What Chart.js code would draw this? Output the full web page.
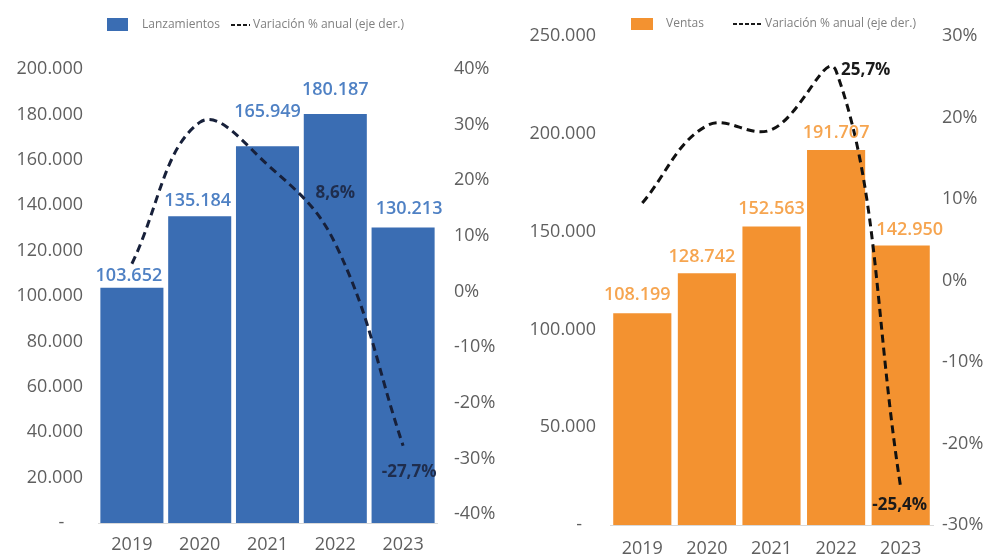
<!DOCTYPE html>
<html>
<head>
<meta charset="utf-8">
<script src="https://cdn.jsdelivr.net/npm/chart.js@4.4.0/dist/chart.umd.min.js"></script>
<style>
body{margin:0;background:#fff;width:992px;height:558px;overflow:hidden}
.box{position:absolute;top:0;width:496px;height:558px}
</style>
</head>
<body>
<div class="box" style="left:0"><canvas id="lanz" width="496" height="558"></canvas></div>
<div class="box" style="left:496px"><canvas id="ventas" width="496" height="558"></canvas></div>
<script>
// datos
const years = ['2019', '2020', '2021', '2022', '2023'];
const lanzamientos = [103652, 135184, 165949, 180187, 130213];
const varLanzamientos = [5.0, 30.4, 22.8, 8.6, -27.7];
const ventas = [108199, 128742, 152563, 191707, 142950];
const varVentas = [9.5, 19.0, 18.5, 25.7, -25.4];
const pctTicks = [-40, -30, -20, -10, 0, 10, 20, 30, 40];
const pctTicksVentas = [-30, -20, -10, 0, 10, 20, 30];

const FONT = '"Open Sans", "Noto Sans", sans-serif';
const GRIS = '#5f5f5f';

function miles(v) {
    return String(v).replace(/\B(?=(\d{3})+(?!\d))/g, '.');
}
function pct(v) {
    return String(v).replace('.', ',') + '%';
}

function labelsPlugin(cfg) {
    return {
        id: 'etiquetas',
        afterDatasetsDraw(chart) {
            const ctx = chart.ctx;
            ctx.save();
            // barras
            const bars = chart.getDatasetMeta(0);
            ctx.font = '600 18px ' + FONT;
            ctx.fillStyle = cfg.labelColor;
            ctx.textAlign = 'center';
            ctx.textBaseline = 'middle';
            bars.data.forEach((el, i) => {
                ctx.fillText(miles(chart.data.datasets[0].data[i]), el.x + (cfg.barDx[i] || 0), el.y - cfg.barOffsets[i]);
            });
            // linea
            const line = chart.getDatasetMeta(1);
            ctx.font = 'bold 17px ' + FONT;
            ctx.fillStyle = cfg.lineLabelColor;
            cfg.lineLabels.forEach(l => {
                const el = line.data[l.i];
                ctx.textAlign = l.align;
                ctx.fillText(pct(chart.data.datasets[1].data[l.i]), el.x + l.dx, el.y + l.dy);
            });
            ctx.restore();
        },
        afterDraw(chart) {
            const ctx = chart.ctx;
            const lg = cfg.legend;
            ctx.save();
            ctx.fillStyle = cfg.barColor;
            ctx.fillRect(lg.box[0], lg.box[1], lg.box[2], lg.box[3]);
            ctx.font = '12px ' + FONT;
            ctx.fillStyle = '#808080';
            ctx.textBaseline = 'middle';
            ctx.textAlign = 'left';
            ctx.fillText(lg.bar, lg.barX, lg.y);
            ctx.strokeStyle = '#1a1a1a';
            ctx.lineWidth = 2;
            ctx.setLineDash([4, 2]);
            ctx.beginPath();
            ctx.moveTo(lg.dash[0], lg.y);
            ctx.lineTo(lg.dash[1], lg.y);
            ctx.stroke();
            ctx.fillText(lg.line, lg.lineX, lg.y);
            ctx.restore();
        }
    };
}

function crear(id, o) {
    return new Chart(document.getElementById(id), {
        type: 'bar',
        data: {
            labels: years,
            datasets: [{
                label: o.legend.bar,
                data: o.bars,
                backgroundColor: o.barColor,
                barPercentage: o.barPct,
                categoryPercentage: 1,
                yAxisID: 'y',
                order: 1
            }, {
                type: 'line',
                label: o.legend.line,
                data: o.line,
                borderColor: o.lineColor,
                borderWidth: 3,
                borderDash: [8, 5],
                tension: 0.4,
                pointRadius: 0,
                fill: false,
                yAxisID: 'y1',
                order: 0
            }]
        },
        options: {
            responsive: false,
            devicePixelRatio: 1,
            animation: false,
            layout: { padding: { top: o.top, left: 0, right: 0, bottom: 0 } },
            plugins: { legend: { display: false }, tooltip: { enabled: false } },
            scales: {
                x: {
                    grid: { display: false, drawTicks: false },
                    border: { display: true, color: '#d9d9d9', width: 1 },
                    ticks: { color: GRIS, font: { size: 18, family: FONT }, padding: o.xPad },
                    afterFit: s => { s.height = o.xH; }
                },
                y: {
                    position: 'left',
                    min: 0,
                    max: o.yMax,
                    grid: { display: false, drawTicks: false },
                    border: { display: false },
                    ticks: {
                        stepSize: o.yStep,
                        color: GRIS,
                        font: { size: 18, family: FONT },
                        padding: o.leftPad,
                        callback: v => v === 0 ? o.zero : miles(v)
                    },
                    afterFit: s => { s.width = o.leftW; }
                },
                y1: {
                    position: 'right',
                    min: o.rMin,
                    max: o.rMax,
                    grid: { display: false, drawTicks: false },
                    border: { display: false },
                    afterBuildTicks: s => { s.ticks = o.rTicks.map(v => ({ value: v })); },
                    ticks: {
                        color: GRIS,
                        font: { size: 18, family: FONT },
                        padding: o.rightPad,
                        callback: v => v + '%'
                    },
                    afterFit: s => { s.width = o.rightW; }
                }
            }
        },
        plugins: [labelsPlugin(o)]
    });
}

crear('lanz', {
    bars: lanzamientos,
    line: varLanzamientos,
    barColor: '#3a6db3',
    labelColor: '#4f81c4',
    lineColor: '#17203a',
    lineLabelColor: '#1f2d4d',
    barPct: 0.93,
    top: 69, xH: 35, xPad: 11,
    yMax: 200000, yStep: 20000,
    rMin: -41.6, rMax: 40, rTicks: pctTicks,
    leftW: 98, rightW: 59, leftPad: 15, rightPad: 17,
    zero: '-    ',
    barOffsets: [12, 15, 34, 24, 19],
    barDx: [-3, -2, 0, 0, 6],
    lineLabels: [
        { i: 3, dx: 0, dy: -51, align: 'center' },
        { i: 4, dx: 6, dy: 26, align: 'center' }
    ],
    legend: {
        box: [107, 18, 21, 13], y: 25,
        bar: 'Lanzamientos', barX: 142,
        dash: [231, 250],
        line: 'Variación % anual (eje der.)', lineX: 253
    }
});

crear('ventas', {
    bars: ventas,
    line: varVentas,
    barColor: '#f39230',
    labelColor: '#f6a550',
    lineColor: '#111111',
    lineLabelColor: '#1a1a1a',
    barPct: 0.9,
    top: 36, xH: 33, xPad: 13,
    yMax: 250000, yStep: 50000,
    rMin: -30, rMax: 30, rTicks: pctTicksVentas,
    leftW: 114, rightW: 59, leftPad: 14, rightPad: 9,
    zero: '-   ',
    barOffsets: [18, 16, 18, 17, 16],
    barDx: [-5, -5, 0, 0, 9],
    lineLabels: [
        { i: 3, dx: 5, dy: -1, align: 'left' },
        { i: 4, dx: -1, dy: 18, align: 'center' }
    ],
    legend: {
        box: [135, 18, 22, 12], y: 24,
        bar: 'Ventas', barX: 170,
        dash: [237, 266],
        line: 'Variación % anual (eje der.)', lineX: 269
    }
});
</script>
</body>
</html>
